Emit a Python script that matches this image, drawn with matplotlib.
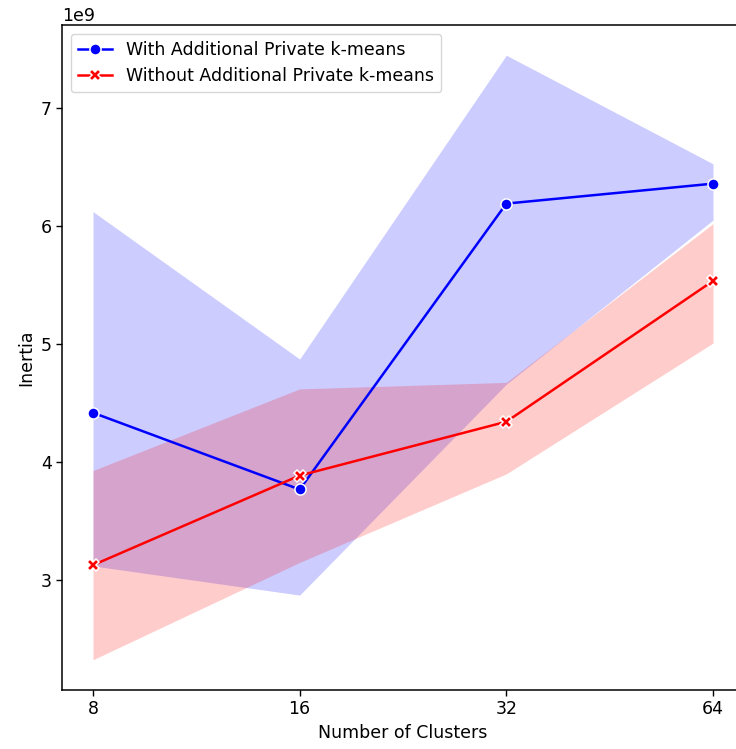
import matplotlib
matplotlib.use("Agg")
import matplotlib.pyplot as plt
from matplotlib.ticker import FixedLocator, FixedFormatter, NullLocator

clusters = [8, 16, 32, 64]

with_mean = [4.418e9, 3.768e9, 6.19e9, 6.359e9]
with_low = [3.12e9, 2.873e9, 4.66e9, 6.05e9]
with_high = [6.122e9, 4.873e9, 7.447e9, 6.527e9]

without_mean = [3.127e9, 3.886e9, 4.342e9, 5.535e9]
without_low = [2.325e9, 3.15e9, 3.90e9, 5.008e9]
without_high = [3.928e9, 4.62e9, 4.675e9, 6.02e9]

label_with = "With Additional Private k-means"
label_without = "Without Additional Private k-means"

fs = 12.5
fig = plt.figure(figsize=(7.36, 7.49), dpi=100)
W, H = 736, 749
ax = fig.add_axes([62 / W, (H - 690) / H, (744 - 62) / W, (690 - 25) / H])

ax.fill_between(clusters, with_low, with_high, color="blue", alpha=0.2, linewidth=0)
ax.fill_between(clusters, without_low, without_high, color="red", alpha=0.2, linewidth=0)
ax.plot(clusters, with_mean, color="blue", marker="o", markersize=8,
        markeredgecolor="white", markeredgewidth=1.1, linewidth=1.8, label=label_with)
ax.plot(clusters, without_mean, color="red", marker="X", markersize=8,
        markeredgecolor="white", markeredgewidth=1.1, linewidth=1.8, label=label_without)

ax.set_xscale("log", base=2)
ax.xaxis.set_major_locator(FixedLocator(clusters))
ax.xaxis.set_major_formatter(FixedFormatter([str(c) for c in clusters]))
ax.xaxis.set_minor_locator(NullLocator())

ax.set_xlabel("Number of Clusters", fontsize=fs)
ax.set_ylabel("Inertia", fontsize=fs)
ax.tick_params(labelsize=fs, length=4, width=1)
for s in ax.spines.values():
    s.set_linewidth(1.1)
ax.yaxis.get_offset_text().set_fontsize(fs)
ax.legend(loc="upper left", fontsize=fs)

fig.savefig("out.png", dpi=100)
